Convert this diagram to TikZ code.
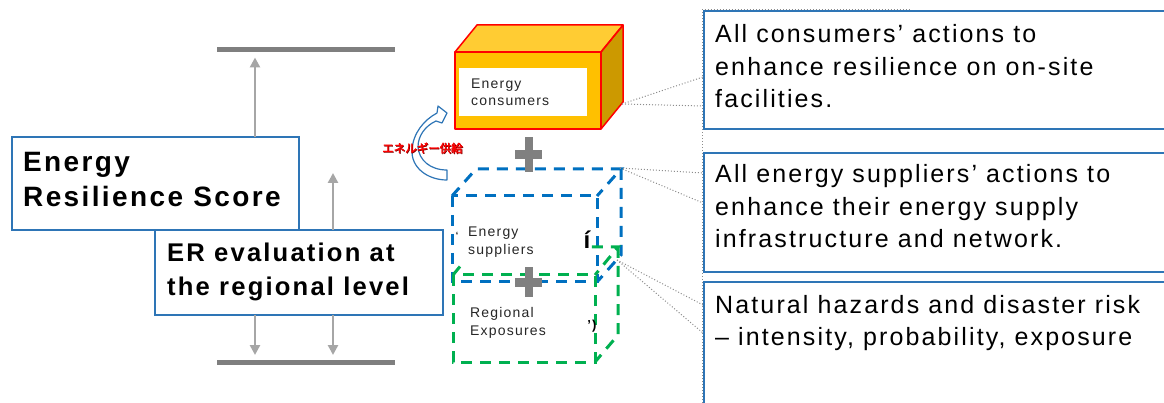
\documentclass[tikz,border=0pt]{standalone}
\usepackage{fontspec}
\setmainfont[LetterSpace=8.5]{Liberation Sans}
\newfontfamily\jpfont[FakeBold=2]{Noto Sans CJK JP}
\usetikzlibrary{arrows.meta}

\definecolor{boxblue}{HTML}{2E75B6}
\definecolor{dashblue}{HTML}{0070C0}
\definecolor{dashgreen}{HTML}{00B050}
\definecolor{bargrey}{HTML}{7F7F7F}
\definecolor{arrowgrey}{HTML}{A6A6A6}
\definecolor{plusgrey}{HTML}{808080}
\definecolor{cubefront}{HTML}{FFC000}
\definecolor{cubetop}{HTML}{FFCC33}
\definecolor{cubeside}{HTML}{CC9900}
\definecolor{labelshadow}{HTML}{7A0000}

\tikzset{
  scorebox/.style={draw=boxblue, line width=1.5pt, fill=white, anchor=north west, inner sep=0pt, outer sep=0pt},
  notebox/.style={draw=boxblue, line width=2pt, fill=white, anchor=north west, inner sep=0pt, outer sep=0pt},
  bigbold/.style={anchor=base west, inner sep=0pt, font=\bfseries\fontsize{28}{30}\selectfont},
  midbold/.style={anchor=base west, inner sep=0pt, font=\bfseries\fontsize{25.6}{30}\selectfont},
  notetext/.style={anchor=base west, inner sep=0pt, font=\fontsize{25}{30}\selectfont},
  cubetext/.style={anchor=base west, inner sep=0pt, font=\fontsize{14}{16}\selectfont, text=black!85},
  rangebar/.style={fill=bargrey, inner sep=0pt, outer sep=0pt, minimum width=178pt, minimum height=5pt, anchor=west},
  rangearrow/.style={draw=arrowgrey, line width=2.5pt, -{Triangle[length=10pt,width=10pt]}},
  dashcube/.style={line width=3pt, dash pattern=on 11pt off 8pt},
  callout/.style={draw=black!45, dotted, line width=1pt},
  cubeface/.style={draw=red, line width=1.5pt, line join=round},
  plusbar/.style={fill=plusgrey},
  smallmark/.style={inner sep=0pt, anchor=base, font=\bfseries\fontsize{13}{14}\selectfont},
  supplytext/.style={anchor=west, inner sep=0pt, font=\jpfont\fontsize{11.5}{12}\selectfont},
}

\begin{document}
\begin{tikzpicture}[x=1pt,y=-1pt]
\useasboundingbox (0,0) rectangle (1164,403);

% column positions of the range arrows
\coordinate (colA) at (255,0);
\coordinate (colB) at (333,0);

% range bars
\node[rangebar] (topbar) at (217,50) {};
\node[rangebar] (bottombar) at (217,362) {};

% score boxes
\node[scorebox, minimum width=287pt, minimum height=93pt] (ers) at (12,137) {};
\node[scorebox, minimum width=288pt, minimum height=85pt] (erreg) at (155,230) {};
\node[bigbold] (ers1) at (23,171.5) {Energy};
\node[bigbold] (ers2) at (23,206.5) {Resilience Score};
\node[midbold] (erreg1) at (167,261.5) {ER evaluation at};
\node[midbold] (erreg2) at (167,295) {the regional level};

% range arrows
\coordinate (erpeak) at (333,173);
\draw[rangearrow] (ers.north -| colA) -- ([yshift=-5pt]topbar.south -| colA);
\draw[rangearrow] (erreg.north -| colB) -- (erpeak);
\draw[rangearrow] (erreg.south -| colA) -- ([yshift=4.5pt]bottombar.north -| colA);
\draw[rangearrow] (erreg.south -| colB) -- ([yshift=4.5pt]bottombar.north -| colB);

% energy consumers block
\fill[cubefront] (455,52) rectangle (601,129);
\fill[cubetop] (455,52) -- (477,25) -- (623,25) -- (601,52) -- cycle;
\fill[cubeside] (601,52) -- (623,25) -- (623,102) -- (601,129) -- cycle;
\draw[cubeface] (455,52) rectangle (601,129);
\draw[cubeface] (455,52) -- (477,25) -- (623,25) -- (601,52);
\draw[cubeface] (601,52) -- (623,25) -- (623,102) -- (601,129);
\node[fill=white, inner sep=0pt, outer sep=0pt, minimum width=128pt, minimum height=48pt, anchor=north west] (consumers) at (459,68) {};
\node[cubetext] (cons1) at (471,89) {Energy};
\node[cubetext] (cons2) at (471,106) {consumers};
\coordinate (consumerEdge) at (622,104);

% energy suppliers block (dashed blue)
\draw[dashcube, dashblue] (452,196) rectangle (597,282);
\draw[dashcube, dashblue] (452,196) -- (476,169) -- (621,169) -- (597,196);
\draw[dashcube, dashblue] (621,169) -- (621,255) -- (597,282);
\coordinate (supplierEdge) at (620,168);

% regional exposures block (dashed green)
\draw[dashcube, dashgreen] (453,275) rectangle (595,362);
\draw[dashcube, dashgreen] (453,275) -- (476,247) -- (618,247) -- (595,275);
\draw[dashcube, dashgreen] (618,247) -- (618,335) -- (595,362);
\coordinate (exposureEdge) at (617,260);

% labels of the dashed blocks
\node[fill=white, inner sep=0pt, outer sep=0pt, minimum width=128pt, minimum height=54pt, anchor=north west] (suppliers) at (461,212) {};
\node[cubetext] (sup1) at (468,237) {Energy};
\node[cubetext] (sup2) at (468,255) {suppliers};
\node[cubetext] (reg1) at (470,317) {Regional};
\node[cubetext] (reg2) at (470,335) {Exposures};
\node[smallmark, font=\bfseries\fontsize{24}{24}\selectfont] (markA) at (587,249) {í};
\node[smallmark] (markB) at (592,329) {’)};
\node[smallmark, font=\bfseries\fontsize{9}{9}\selectfont] (markC) at (457,239) {‘};

% plus signs
\fill[plusbar] (515,150) rectangle (542,159);
\fill[plusbar] (524.5,137) rectangle (533,172);
\fill[plusbar] (515,278) rectangle (542,287);
\fill[plusbar] (524.5,267) rectangle (533,297);

% curved supply arrow
\draw[boxblue, line width=1.2pt, fill=white, line join=round]
  (447,180) .. controls (428,180) and (411,168) .. (412,150)
  .. controls (413,133) and (424,120) .. (437,113)
  -- (438,106) -- (447,113) -- (442,123) -- (436,121)
  .. controls (425,126) and (418,136) .. (418,147)
  .. controls (419,160) and (430,170) .. (447,170) -- cycle;
\node[supplytext, text=labelshadow] (supplyshadow) at (382.7,148.7) {エネルギー供給};
\node[supplytext, text=red] (supplylabel) at (382,148) {エネルギー供給};

% explanatory notes
\coordinate (n1a) at (703,77);
\coordinate (n1b) at (703,106);
\coordinate (n2a) at (703,173);
\coordinate (n2b) at (703,203);
\coordinate (n3a) at (703,305);
\coordinate (n3b) at (703,333);
\draw[callout] (consumerEdge) -- (n1a);
\draw[callout] (consumerEdge) -- (n1b);
\draw[callout] (supplierEdge) -- (n2a);
\draw[callout] (supplierEdge) -- (n2b);
\draw[callout] (exposureEdge) -- (n3a);
\draw[callout] (exposureEdge) -- (n3b);

\draw[callout] (702,409) -- (702,9.5) -- (909,9.5);
\node[notebox, minimum width=467pt, minimum height=118pt] (note1) at (704,11) {};
\node[notebox, minimum width=467pt, minimum height=119pt] (note2) at (704,153) {};
\node[notebox, minimum width=467pt, minimum height=128pt] (note3) at (704,282) {};

\node[notetext] (note1a) at (715,43) {All consumers’ actions to};
\node[notetext] (note1b) at (715,76) {enhance resilience on on-site};
\node[notetext] (note1c) at (715,108) {facilities.};
\node[notetext] (note2a) at (715,183) {All energy suppliers’ actions to};
\node[notetext] (note2b) at (715,216) {enhance their energy supply};
\node[notetext] (note2c) at (715,248) {infrastructure and network.};
\node[notetext] (note3a) at (715,313) {Natural hazards and disaster risk};
\node[notetext] (note3b) at (715,345) {– intensity, probability, exposure};
\end{tikzpicture}
\end{document}
